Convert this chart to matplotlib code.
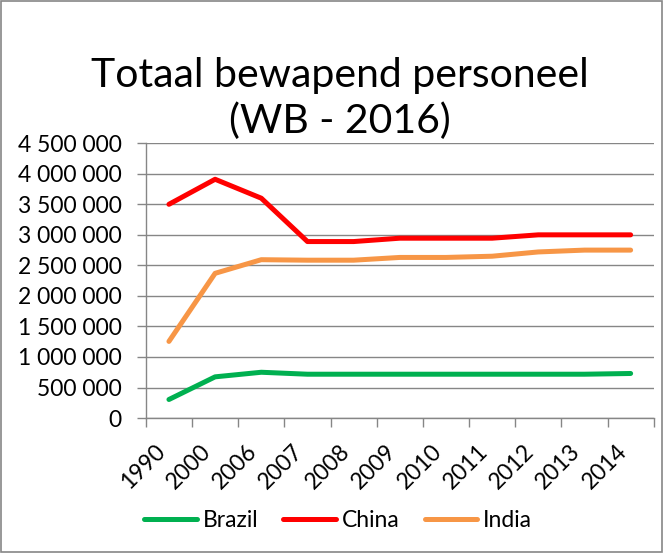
import matplotlib.pyplot as plt
from matplotlib.patches import Rectangle
from matplotlib.ticker import FuncFormatter

years = ['1990', '2000', '2006', '2007', '2008', '2009', '2010', '2011', '2012', '2013', '2014']
brazil = [304000, 675000, 750000, 718000, 718000, 718000, 718000, 718000, 718000, 718000, 730000]
china = [3500000, 3910000, 3600000, 2890000, 2890000, 2945000, 2945000, 2945000, 3000000, 3000000, 3000000]
india = [1255000, 2370000, 2593000, 2585000, 2585000, 2630000, 2630000, 2650000, 2720000, 2750000, 2750000]

plt.rcParams['font.family'] = ['Lato', 'DejaVu Sans']

fig = plt.figure(figsize=(6.63, 5.53), dpi=100)
ax = fig.add_axes([0.220, 0.244, 0.766, 0.497])

x = list(range(len(years)))
ax.plot(x, brazil, color='#00B050', lw=3.6, label='Brazil', solid_capstyle='round')
ax.plot(x, china, color='#FF0000', lw=3.6, label='China', solid_capstyle='round')
ax.plot(x, india, color='#F79646', lw=3.6, label='India', solid_capstyle='round')

ax.set_xlim(-0.5, len(years) - 0.5)
ax.set_ylim(0, 4500000)
ax.set_yticks(range(0, 4500001, 500000))
ax.yaxis.set_major_formatter(FuncFormatter(lambda v, p: f'{int(v):,}'.replace(',', ' ')))
ax.grid(axis='y', color='#868686', lw=1)
ax.set_axisbelow(True)

ax.set_xticks(x)
ax.set_xticklabels(years, rotation=45, ha='right', va='top')
ax.set_xticks([i - 0.5 for i in range(len(years) + 1)], minor=True)
ax.tick_params(axis='x', which='major', length=0, pad=16, labelsize=16.5)
ax.tick_params(axis='x', which='minor', length=6.5, color='#868686', width=1)
ax.tick_params(axis='y', length=6.5, color='#868686', width=1, labelsize=16.5, pad=11)

for s in ['top', 'right']:
    ax.spines[s].set_visible(False)
for s in ['left', 'bottom']:
    ax.spines[s].set_color('#868686')
    ax.spines[s].set_linewidth(1)

fig.text(0.513, 1 - 87 / 553, 'Totaal bewapend personeel', ha='center', va='baseline', fontsize=29.5)
fig.text(0.513, 1 - 133 / 553, '(WB - 2016)', ha='center', va='baseline', fontsize=29.5)

fig.legend(loc='center', bbox_to_anchor=(0.51, 0.058), ncol=3, frameon=False,
           fontsize=16.5, handlelength=2.3, handletextpad=0.25, columnspacing=1.1)

fig.add_artist(Rectangle((0.001, 0.001), 0.997, 0.997, transform=fig.transFigure,
                         fill=False, edgecolor='#868686', lw=1.2))

fig.savefig('out.png', dpi=100)
